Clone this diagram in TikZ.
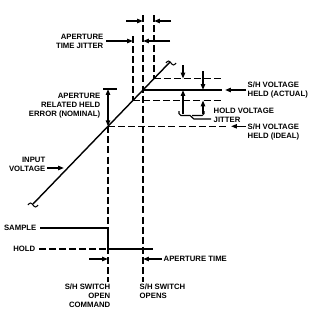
\documentclass[tikz,border=0pt]{standalone}
\usepackage{fontspec}
\newfontfamily\capsfont{Liberation Sans}
\usetikzlibrary{arrows.meta, positioning}
\tikzset{
  lbl/.style={font=\capsfont\bfseries\fontsize{6.6}{7.6}\selectfont, inner sep=0pt},
  guide/.style={dash pattern=on 6pt off 2.6pt},
  dim/.style={-{Triangle[length=5pt,width=3.6pt]}},
  twodim/.style={{Triangle[length=5pt,width=3.6pt]}-{Triangle[length=5pt,width=3.6pt]}},
}

\begin{document}
\begin{tikzpicture}[x=0.03cm, y=-0.03cm, line width=1.2pt]
  \useasboundingbox (0,0) rectangle (315,308);

  % --- Ramp and its crossing points ---
  \coordinate (rampS) at (33,204);
  \coordinate (rampE) at (170,62);
  \coordinate (cmd) at (108,126.3);
  \coordinate (jitL) at (133,100.4);
  \coordinate (opn) at (143,90);
  \coordinate (jitR) at (154,78.6);
  \draw (rampS) -- (rampE);
  \draw[line width=0.9pt] (rampS) ++(-5,1) sin ++(2.5,-2) cos ++(2.5,2) sin ++(2.5,2) cos ++(2.5,-2);
  \draw[line width=0.9pt] (rampE) ++(-4,1) sin ++(2.5,-2) cos ++(2.5,2) sin ++(2.5,2) cos ++(2.5,-2);

  % --- Held levels ---
  \coordinate (upE) at (222,78.6);
  \coordinate (actE) at (222,90);
  \coordinate (lowE) at (222,100.4);
  \coordinate (idlE) at (228,126.3);
  \draw[guide] (jitR) -- (upE);
  \draw (opn) -- (actE);
  \draw[guide] (jitL) -- (lowE);
  \draw[guide] (cmd) -- (idlE);

  % --- Time marks ---
  \coordinate (opnT) at (143,15);
  \coordinate (opnB) at (143,282);
  \coordinate (jitRT) at (154,15);
  \coordinate (jitLT) at (133,36);
  \coordinate (cmdB) at (108,282);
  \draw[guide] (opnT) -- (opnB);
  \draw[guide] (jitRT) -- (jitR);
  \draw[guide] (jitLT) -- (jitL);
  \draw[guide] (cmd) -- (cmdB);

  % --- Aperture time jitter ---
  \node[lbl, align=right, anchor=east] (ljit) at (104,41) {APERTURE\\TIME JITTER};
  \draw[dim] (ljit.east) ++(2,0) -- (133,41);
  \draw[dim] (170,41) -- (143,41);
  \draw[dim] (126,21) -- (143,21);
  \draw[dim] (171,21) -- (154,21);

  % --- Held error ---
  \node[lbl, align=right, anchor=east] (lerr) at (101,106) {APERTURE\\RELATED HELD\\ERROR (NOMINAL)};
  \coordinate (errT) at (108,89);
  \draw (103,89) -- (117,89);
  \draw[twodim] (errT) -- (cmd);

  % --- Input ---
  \node[lbl, align=right, anchor=east] (lin) at (46,164) {INPUT\\VOLTAGE};
  \coordinate (linT) at (64,168);
  \draw[dim] (lin.east |- linT) ++(1,0) -- (linT);

  % --- Right labels ---
  \node[lbl, align=left, anchor=west] (lact) at (247,90) {S/H VOLTAGE\\HELD (ACTUAL)};
  \draw[dim] (lact.west) ++(-1,0) -- (225,90);
  \node[lbl, align=left, anchor=north west] (lidl) at (247,123.6) {S/H VOLTAGE\\HELD (IDEAL)};
  \draw[dim] (lidl.west |- idlE) ++(-1,0) -- (231,126.3);

  % --- Hold voltage jitter ---
  \draw[dim] (183,65) -- (183,78.6);
  \draw[dim] (183,114) -- (183,90);
  \draw[dim] (203,71) -- (203,90);
  \draw[dim] (203,114) -- (203,100.4);
  \draw[line width=0.9pt, rounded corners=1.5] (179,111) |- (192,115.5) -- (192,119) -- (211,119);
  \draw[line width=0.9pt, rounded corners=1.5] (192,115.5) -| (204,111);
  \node[lbl, align=left, anchor=west] (lhj) at (213,115.5) {HOLD VOLTAGE\\JITTER};

  % --- Sample / hold ---
  \node[lbl, anchor=east] (smp) at (37,228) {SAMPLE};
  \node[lbl, anchor=east] (hld) at (36,249) {HOLD};
  \draw (smp.east) ++(3,0) -- (108,228) -- (108,249) -- (153,249);
  \draw[guide] (hld.east) ++(3,0) -- (106,249);

  % --- Aperture time ---
  \draw[dim] (89,259) -- (108,259);
  \node[lbl, anchor=west] (apt) at (163,259) {APERTURE TIME};
  \draw[dim] (apt.west) ++(-1,0) -- (143,259);

  % --- Bottom labels ---
  \node[lbl, align=right, anchor=north east] (cmdL) at (111,283) {S/H SWITCH\\OPEN\\COMMAND};
  \node[lbl, align=left, anchor=north west] (opnL) at (139,283) {S/H SWITCH\\OPENS};
\end{tikzpicture}
\end{document}
